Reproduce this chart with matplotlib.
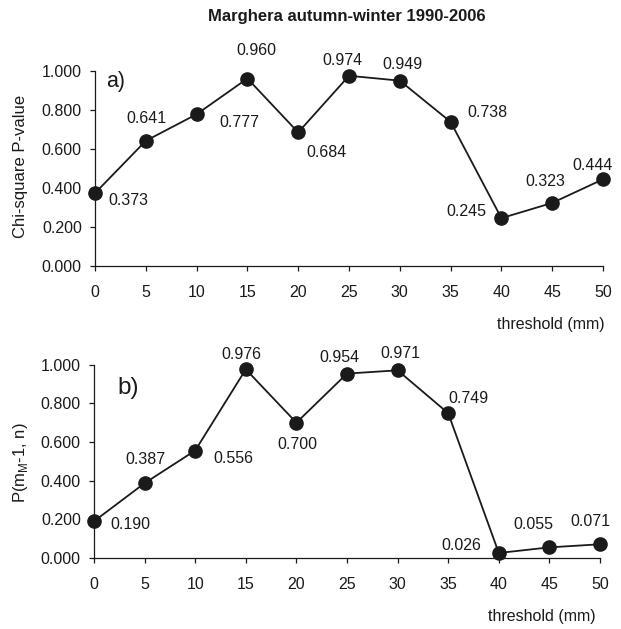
import matplotlib
matplotlib.use("Agg")
import matplotlib.pyplot as plt

plt.rcParams['font.family'] = ['Liberation Sans', 'DejaVu Sans']

thresholds = [0, 5, 10, 15, 20, 25, 30, 35, 40, 45, 50]
chi_pvalue = [0.373, 0.641, 0.777, 0.960, 0.684, 0.974, 0.949, 0.738, 0.245, 0.323, 0.444]
p_mm1 = [0.190, 0.387, 0.556, 0.976, 0.700, 0.954, 0.971, 0.749, 0.026, 0.055, 0.071]

# label offsets (pixels, right / up) for each point
offsets_a = [(33, -7), (1, 22), (43, -8), (9, 28), (28, -20), (-7, 15),
             (3, 16), (37, 9), (-35, 7), (-7, 21), (-10, 14)]
offsets_b = [(36, -3), (1, 24), (38, -8), (-4, 15), (1, -22), (-8, 16),
             (3, 17), (20, 15), (-37, 7), (-16, 23), (-10, 23)]

ink = '#1a1a1a'
W, H = 621, 629


def panel(ax, y, offsets, tag, tagpos, tagsize):
    ax.plot(thresholds, y, color=ink, lw=1.3, marker='o', ms=9.5,
            mfc=ink, mec=ink, clip_on=False, zorder=3)
    for xv, yv, off in zip(thresholds, y, offsets):
        ax.annotate(f"{yv:.3f}", (xv, yv), xytext=off, textcoords='offset pixels',
                    ha='center', va='center', fontsize=11.5, color=ink)
    ax.set_xlim(0, 50)
    ax.set_ylim(0, 1)
    ax.set_xticks(thresholds)
    ax.set_yticks([0, 0.2, 0.4, 0.6, 0.8, 1.0])
    ax.set_yticklabels([f"{v:.3f}" for v in [0, 0.2, 0.4, 0.6, 0.8, 1.0]])
    for s in ['top', 'right']:
        ax.spines[s].set_visible(False)
    for s in ['left', 'bottom']:
        ax.spines[s].set_color(ink)
        ax.spines[s].set_linewidth(0.9)
    ax.tick_params(axis='both', direction='out', length=3.5, width=0.9,
                   color=ink, labelcolor=ink, labelsize=11.5)
    ax.tick_params(axis='y', pad=6)
    ax.tick_params(axis='x', pad=10)
    ax.text(tagpos[0], tagpos[1], tag, transform=ax.transAxes, fontsize=tagsize,
            ha='center', va='center', color=ink)


fig = plt.figure(figsize=(W / 100, H / 100), dpi=100)

ax1 = fig.add_axes([95 / W, 1 - 266 / H, (603 - 95) / W, (266 - 70.7) / H])
ax2 = fig.add_axes([94 / W, 1 - 558 / H, (600 - 94) / W, (558 - 364.7) / H])

panel(ax1, chi_pvalue, offsets_a, 'a)', ((116 - 95) / 508, (266 - 82) / 195.3), 15.5)
panel(ax2, p_mm1, offsets_b, 'b)', ((128 - 94) / 506, (558 - 388) / 193.3), 17.5)

fig.text(347 / W, 1 - 17 / H, 'Marghera autumn-winter 1990-2006', ha='center', va='center',
         fontsize=12, fontweight='bold', color=ink)

fig.text(21 / W, 1 - 166 / H, 'Chi-square P-value', rotation=90, ha='center', va='center',
         fontsize=12, color=ink)
fig.text(21 / W, 1 - 463 / H, r'P(m$_\mathregular{M}$-1, n)', rotation=90, ha='center',
         va='center', fontsize=12, color=ink)

fig.text(605 / W, 1 - 325 / H, 'threshold (mm)', ha='right', va='center', fontsize=11.5, color=ink)
fig.text(596 / W, 1 - 616 / H, 'threshold (mm)', ha='right', va='center', fontsize=11.5, color=ink)

fig.savefig('out.png', dpi=100, facecolor='white')
